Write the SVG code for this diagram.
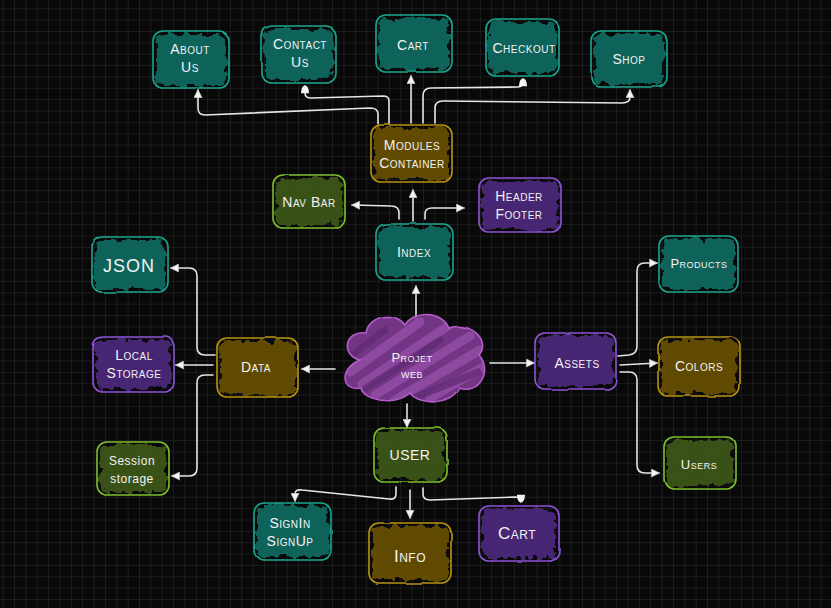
<svg xmlns="http://www.w3.org/2000/svg" width="831" height="608" viewBox="0 0 831 608">
<defs>
<pattern id="grid" x="2.7" y="8.3" width="11.36" height="11.36" patternUnits="userSpaceOnUse">
<path d="M0,0 H11.36 M0,0 V11.36" stroke="#2e2e2e" stroke-width="1" fill="none"/>
</pattern>
<filter id="jag" x="-15%" y="-15%" width="130%" height="130%">
<feTurbulence type="fractalNoise" baseFrequency="0.12" numOctaves="2" seed="4"/>
<feDisplacementMap in="SourceGraphic" scale="11" xChannelSelector="R" yChannelSelector="G"/>
</filter>
<filter id="wob" x="-10%" y="-10%" width="120%" height="120%">
<feTurbulence type="fractalNoise" baseFrequency="0.04" numOctaves="1" seed="7"/>
<feDisplacementMap in="SourceGraphic" scale="2.5" xChannelSelector="R" yChannelSelector="G"/>
</filter>
<marker id="ah" viewBox="0 0 10 10" refX="9" refY="5" markerWidth="9" markerHeight="9" markerUnits="userSpaceOnUse" orient="auto">
<path d="M0.5,0.5 L9.5,5 L0.5,9.5 Z" fill="#f4f4f4" stroke="#bbb" stroke-width="0.8"/>
</marker>
<marker id="dm" viewBox="0 0 10 10" refX="9" refY="5" markerWidth="9" markerHeight="9" markerUnits="userSpaceOnUse" orient="auto">
<path d="M1,0.5 Q9.5,1 9.5,5 Q9.5,9 1,9.5 Z" fill="#f4f4f4"/>
</marker>
<clipPath id="cloudclip">
<path d="M360,360 C340,355 345,330 366,333 C369,315 395,311 405,325 C413,311 441,310 449,328 C471,321 491,341 479,355 C493,371 479,395 459,388 C451,405 420,406 410,393 C395,406 364,401 361,388 C341,392 339,368 360,360 Z"/>
</clipPath>
</defs>
<style>
.f{fill-opacity:0.9;filter:url(#jag)}
.s{fill:none;stroke-width:1.6;filter:url(#wob)}
.teal .f{fill:#0d6b62}.teal .s{stroke:#17a68e}
.gold .f{fill:#695100}.gold .s{stroke:#b8930c}
.purple .f{fill:#4c2a7e}.purple .s{stroke:#8e52d8}
.green .f{fill:#3e5918}.green .s{stroke:#7cc02a}
.t{font-family:"Liberation Sans","DejaVu Sans",sans-serif;font-size:14px;font-variant:small-caps;fill:#f2f2f2;text-anchor:middle;letter-spacing:0.5px}
.c{fill:none;stroke:#e6e6e6;stroke-width:1.6;stroke-linecap:round;stroke-linejoin:round}
</style>
<rect width="831" height="608" fill="#080808"/>
<rect width="831" height="608" fill="url(#grid)"/>

<g id="connectors">
<path class="c" d="M378,124 L378,114 Q378,108 370,108 L205,115 Q198,115 198,108 L198,90" marker-end="url(#ah)"/>
<path class="c" d="M389,124 L389,101 Q389,96 383,96 L311,98 Q305,98 305,93 L305,86" marker-end="url(#dm)"/>
<path class="c" d="M411,123 L411,76" marker-end="url(#ah)"/>
<path class="c" d="M423,123 L423,96 Q423,88 431,88 L517,87 Q523,87 523,83 L523,79" marker-end="url(#dm)"/>
<path class="c" d="M435,123 L435,108 Q435,101 443,101 L622,103 Q630,103 630,97 L630,90" marker-end="url(#ah)"/>
<path class="c" d="M413,221 L413,190" marker-end="url(#ah)"/>
<path class="c" d="M399,219 L399,213 Q399,206 391,206 L352,205" marker-end="url(#ah)"/>
<path class="c" d="M425,219 L425,214 Q425,208 432,208 L464,208" marker-end="url(#ah)"/>
<path class="c" d="M416,320 L416,286" marker-end="url(#ah)"/>
<path class="c" d="M335,369 L302,369" marker-end="url(#ah)"/>
<path class="c" d="M490,363 L534,363" marker-end="url(#ah)"/>
<path class="c" d="M407,404 L407,427" marker-end="url(#ah)"/>
<path class="c" d="M215,355 L205,355 Q197,355 197,347 L197,276 Q197,268 189,268 L171,268" marker-end="url(#ah)"/>
<path class="c" d="M213,365 L176,365" marker-end="url(#ah)"/>
<path class="c" d="M213,375 L205,375 Q197,375 197,383 L197,468 Q197,476 189,476 L172,476" marker-end="url(#ah)"/>
<path class="c" d="M618,356 L629,355 Q637,354 637,346 L637,271 Q637,263 645,263 L657,263" marker-end="url(#ah)"/>
<path class="c" d="M620,365 L657,363" marker-end="url(#ah)"/>
<path class="c" d="M620,372 L629,372 Q637,372 637,380 L637,465 Q637,473 645,473 L659,473" marker-end="url(#ah)"/>
<path class="c" d="M396,487 L396,494 Q396,500 389,499 L302,490 Q295,489 295,494 L295,501" marker-end="url(#ah)"/>
<path class="c" d="M410,490 L410,518" marker-end="url(#ah)"/>
<path class="c" d="M423,488 L423,494 Q423,500 430,500 L515,497 Q521,497 521,499 L521,502" marker-end="url(#dm)"/>
</g>

<g id="about-us" class="teal"><rect class="f" x="156" y="34" width="70" height="51" rx="6"/><rect class="s" x="153" y="31" width="76" height="57" rx="10"/><text class="t" x="190" y="54">About</text><text class="t" x="190" y="72">Us</text></g>
<g id="contact-us" class="teal"><rect class="f" x="265" y="29" width="68" height="51" rx="6"/><rect class="s" x="262" y="26" width="74" height="57" rx="10"/><text class="t" x="300" y="49">Contact</text><text class="t" x="300" y="67">Us</text></g>
<g id="cart-top" class="teal"><rect class="f" x="379" y="18" width="70" height="51" rx="6"/><rect class="s" x="376" y="15" width="76" height="57" rx="10"/><text class="t" x="413" y="50">Cart</text></g>
<g id="checkout" class="teal"><rect class="f" x="489" y="22" width="67" height="51" rx="6"/><rect class="s" x="486" y="19" width="73" height="57" rx="10"/><text class="t" x="524" y="53">Checkout</text></g>
<g id="shop" class="teal"><rect class="f" x="594" y="34" width="70" height="50" rx="6"/><rect class="s" x="591" y="31" width="76" height="56" rx="10"/><text class="t" x="629" y="64">Shop</text></g>
<g id="modules-container" class="gold"><rect class="f" x="374" y="128" width="75" height="51" rx="6"/><rect class="s" x="371" y="125" width="81" height="57" rx="10"/><text class="t" x="412" y="150">Modules</text><text class="t" x="412" y="168">Container</text></g>
<g id="nav-bar" class="green"><rect class="f" x="276" y="178" width="66" height="47" rx="6"/><rect class="s" x="273" y="175" width="72" height="53" rx="10"/><text class="t" x="309" y="207">Nav Bar</text></g>
<g id="header-footer" class="purple"><rect class="f" x="482" y="181" width="76" height="48" rx="6"/><rect class="s" x="479" y="178" width="82" height="54" rx="10"/><text class="t" x="519" y="201">Header</text><text class="t" x="519" y="219">Footer</text></g>
<g id="index" class="teal"><rect class="f" x="379" y="227" width="71" height="50" rx="6"/><rect class="s" x="376" y="224" width="77" height="56" rx="10"/><text class="t" x="414" y="257">Index</text></g>
<g id="json" class="teal"><rect class="f" x="95" y="240" width="70" height="49" rx="6"/><rect class="s" x="92" y="237" width="76" height="55" rx="10"/><text class="t" x="129" y="272" style="font-size:18px;letter-spacing:1px">JSON</text></g>
<g id="local-storage" class="purple"><rect class="f" x="96" y="340" width="75" height="49" rx="6"/><rect class="s" x="93" y="337" width="81" height="55" rx="10"/><text class="t" x="134" y="360">Local</text><text class="t" x="134" y="378">Storage</text></g>
<g id="data" class="gold"><rect class="f" x="220" y="341" width="75" height="53" rx="6"/><rect class="s" x="217" y="338" width="81" height="59" rx="10"/><text class="t" x="256" y="372">Data</text></g>
<g id="session-storage" class="green"><rect class="f" x="100" y="445" width="66" height="47" rx="6"/><rect class="s" x="97" y="442" width="72" height="53" rx="10"/><text class="t" x="132" y="465" style="font-size:12px;font-variant:normal">Session</text><text class="t" x="132" y="483" style="font-size:12px;font-variant:normal">storage</text></g>
<g id="projet-web">
<path d="M360,360 C340,355 345,330 366,333 C369,315 395,311 405,325 C413,311 441,310 449,328 C471,321 491,341 479,355 C493,371 479,395 459,388 C451,405 420,406 410,393 C395,406 364,401 361,388 C341,392 339,368 360,360 Z" fill="#7b3a8e" fill-opacity="0.92"/>
<g clip-path="url(#cloudclip)" stroke-linecap="round" fill="none">
<path d="M350,372 L420,322 M362,384 L448,326 M375,395 L470,336 M395,400 L480,350 M430,398 L485,366" stroke="#9a52ad" stroke-width="9" opacity="0.7"/>
<path d="M345,360 L385,330 M360,392 L440,340 M410,400 L478,372" stroke="#5e2a70" stroke-width="7" opacity="0.7"/>
</g>
<path class="s" d="M360,360 C340,355 345,330 366,333 C369,315 395,311 405,325 C413,311 441,310 449,328 C471,321 491,341 479,355 C493,371 479,395 459,388 C451,405 420,406 410,393 C395,406 364,401 361,388 C341,392 339,368 360,360 Z" stroke="#b55ccb"/>
<text class="t" x="412" y="362" style="font-size:13px">Projet</text><text class="t" x="412" y="378" style="font-size:13px">web</text>
</g>
<g id="assets" class="purple"><rect class="f" x="538" y="336" width="75" height="50" rx="6"/><rect class="s" x="535" y="333" width="81" height="56" rx="10"/><text class="t" x="577" y="368">Assets</text></g>
<g id="products" class="teal"><rect class="f" x="662" y="239" width="73" height="50" rx="6"/><rect class="s" x="659" y="236" width="79" height="56" rx="10"/><text class="t" x="699" y="268" style="font-size:13px">Products</text></g>
<g id="colors" class="gold"><rect class="f" x="661" y="340" width="76" height="53" rx="6"/><rect class="s" x="658" y="337" width="82" height="59" rx="10"/><text class="t" x="699" y="371">Colors</text></g>
<g id="users" class="green"><rect class="f" x="667" y="440" width="66" height="46" rx="6"/><rect class="s" x="664" y="437" width="72" height="52" rx="10"/><text class="t" x="699" y="469" style="font-size:13px">Users</text></g>
<g id="user" class="green"><rect class="f" x="377" y="431" width="67" height="48" rx="6"/><rect class="s" x="374" y="428" width="73" height="54" rx="10"/><text class="t" x="410" y="460">USER</text></g>
<g id="signin-signup" class="teal"><rect class="f" x="257" y="506" width="71" height="51" rx="6"/><rect class="s" x="254" y="503" width="77" height="57" rx="10"/><text class="t" x="290" y="528">SignIn</text><text class="t" x="290" y="546">SignUp</text></g>
<g id="info" class="gold"><rect class="f" x="372" y="526" width="76" height="54" rx="6"/><rect class="s" x="369" y="523" width="82" height="60" rx="10"/><text class="t" x="410" y="562" style="font-size:17px">Info</text></g>
<g id="cart-bottom" class="purple"><rect class="f" x="482" y="509" width="74" height="49" rx="6"/><rect class="s" x="479" y="506" width="80" height="55" rx="10"/><text class="t" x="517" y="539" style="font-size:17px">Cart</text></g>
</svg>
